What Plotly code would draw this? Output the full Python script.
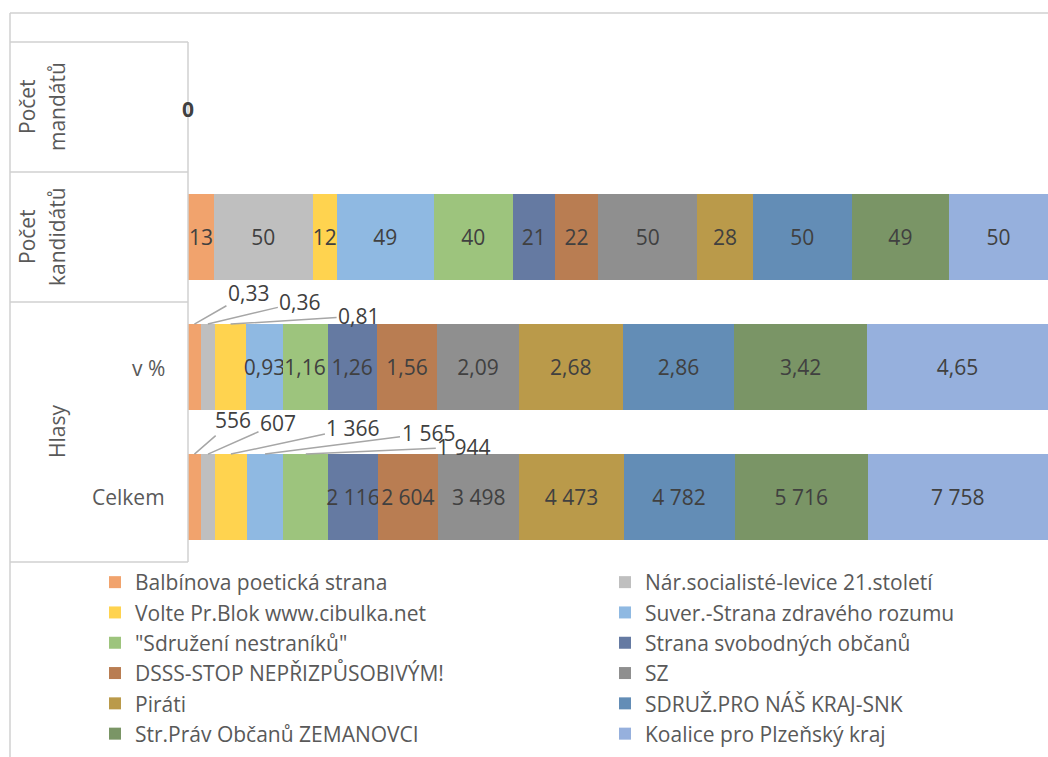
import plotly.graph_objects as go

# --- data ---
parties = [
    "Balbínova poetická strana", "Nár.socialisté-levice 21.století",
    "Volte Pr.Blok www.cibulka.net", "Suver.-Strana zdravého rozumu",
    "\"Sdružení nestraníků\"", "Strana svobodných občanů",
    "DSSS-STOP NEPŘIZPŮSOBIVÝM!", "SZ",
    "Piráti", "SDRUŽ.PRO NÁŠ KRAJ-SNK",
    "Str.Práv Občanů ZEMANOVCI", "Koalice pro Plzeňský kraj",
]
rows = ["Počet mandátů", "Počet kandidátů", "v %", "Celkem"]
mandaty = [0, 0, 0, 0, 0, 0, 0, 0, 0, 0, 0, 0]
kandidati = [13, 50, 12, 49, 40, 21, 22, 50, 28, 50, 49, 50]
hlasy_pct = [0.33, 0.36, 0.81, 0.93, 1.16, 1.26, 1.56, 2.09, 2.68, 2.86, 3.42, 4.65]
hlasy_celkem = [556, 607, 1366, 1565, 1944, 2116, 2604, 3498, 4473, 4782, 5716, 7758]

colors = ["#F1A36D", "#BFBFBF", "#FFD34F", "#8FB9E2", "#9DC47D", "#657AA2",
          "#B97D52", "#8F8F8F", "#BA9A4A", "#638DB6", "#7A9566", "#96B0DD"]

# labels pulled out of small segments (pixel offsets of the callout text)
pct_callouts = [(54, -31), (92, -22), (128, -8)]
cel_callouts = [(39, -34), (70, -31), (122, -26), (163, -21), (158, -7)]

LABEL = "#404040"
GREY = "#595959"
LINE = "#D0D0D0"
FONT = "Open Sans"
FS = 21

# plot area in pixels
L, R, T, B = 188, 1048, 42, 562


def px(x):
    return (x - L) / (R - L)


def py(y):
    return (B - y) / (B - T)


def fmt_int(v):
    return f"{v:,.0f}".replace(",", " ")


def fmt_pct(v):
    return f"{v:.2f}".replace(".", ",")


fig = go.Figure()
for i, name in enumerate(parties):
    texts = [
        "",
        fmt_int(kandidati[i]),
        "" if i < len(pct_callouts) else fmt_pct(hlasy_pct[i]),
        "" if i < len(cel_callouts) else fmt_int(hlasy_celkem[i]),
    ]
    fig.add_trace(go.Bar(
        name=name, orientation="h", y=rows,
        x=[mandaty[i], kandidati[i], hlasy_pct[i], hlasy_celkem[i]],
        marker=dict(color=colors[i], line=dict(width=0)),
        text=texts, textposition="inside", insidetextanchor="middle", textangle=0,
        textfont=dict(size=FS, color=LABEL, family=FONT),
        hoverinfo="skip",
    ))

annotations = []


def add_callouts(values, offsets, row_idx):
    total = sum(values)
    cum = 0
    for j, v in enumerate(values):
        mid = (cum + v / 2) / total * 100
        cum += v
        if j < len(offsets):
            ax, ay = offsets[j]
            txt = fmt_pct(v) if isinstance(v, float) else fmt_int(v)
            annotations.append(dict(
                x=mid, y=row_idx - 0.33, xref="x", yref="y", text=txt,
                showarrow=True, arrowhead=0, arrowwidth=1.5, arrowcolor="#A6A6A6",
                ax=ax, ay=ay, standoff=0,
                font=dict(size=FS, color=LABEL, family=FONT),
            ))


add_callouts(hlasy_pct, pct_callouts, 2)
add_callouts(hlasy_celkem, cel_callouts, 3)

# zero label of the "Počet mandátů" row
annotations.append(dict(x=0, y=rows[0], xref="x", yref="y", text="<b>0</b>",
                        showarrow=False, yshift=-2,
                        font=dict(size=FS, color=LABEL, family=FONT)))

# category labels of the left table
cat_labels = [
    ("Počet", 27, 107), ("mandátů", 57, 107),
    ("Počet", 27, 237), ("kandidátů", 57, 237),
    ("Hlasy", 57, 432),
]
for txt, x, y in cat_labels:
    annotations.append(dict(x=px(x), y=py(y), xref="paper", yref="paper", text=txt,
                            textangle=-90, showarrow=False,
                            xanchor="center", yanchor="middle",
                            font=dict(size=FS, color=GREY, family=FONT)))
for txt, y in [("v %", 368), ("Celkem", 497)]:
    annotations.append(dict(x=px(167), y=py(y), xref="paper", yref="paper", text=txt,
                            showarrow=False, xanchor="right", yanchor="middle",
                            font=dict(size=FS, color=GREY, family=FONT)))

shapes = []


def hline(x0, x1, y):
    shapes.append(dict(type="line", xref="paper", yref="paper", x0=px(x0), x1=px(x1),
                       y0=py(y), y1=py(y), line=dict(color=LINE, width=1.5)))


def vline(x, y0, y1):
    shapes.append(dict(type="line", xref="paper", yref="paper", x0=px(x), x1=px(x),
                       y0=py(y0), y1=py(y1), line=dict(color=LINE, width=1.5)))


# chart border
hline(10, 1048, 13)
vline(10, 13, 757)
# table grid
for y in [42, 172, 302, 562]:
    hline(10, 188, y)
vline(188, 42, 562)

fig.update_layout(
    width=1048, height=757,
    margin=dict(l=L, r=1048 - R, t=T, b=757 - B, autoexpand=False),
    barmode="stack", barnorm="percent", bargap=0.34,
    plot_bgcolor="white", paper_bgcolor="white",
    font=dict(family=FONT, color=GREY),
    uniformtext=dict(minsize=FS, mode="show"),
    xaxis=dict(visible=False, range=[0, 100], fixedrange=True),
    yaxis=dict(type="category", categoryorder="array", categoryarray=rows,
               autorange="reversed", showticklabels=False, showgrid=False,
               zeroline=False, showline=False, ticks=""),
    showlegend=True,
    legend=dict(orientation="h", x=px(95), xanchor="left", y=py(754), yanchor="bottom",
                entrywidth=465, entrywidthmode="pixels", traceorder="normal",
                font=dict(size=FS, color=GREY, family=FONT),
                bgcolor="rgba(0,0,0,0)"),
    annotations=annotations, shapes=shapes,
)

fig.write_html("out.html", config={"displayModeBar": False},
               post_script="document.body.style.margin='0';")
